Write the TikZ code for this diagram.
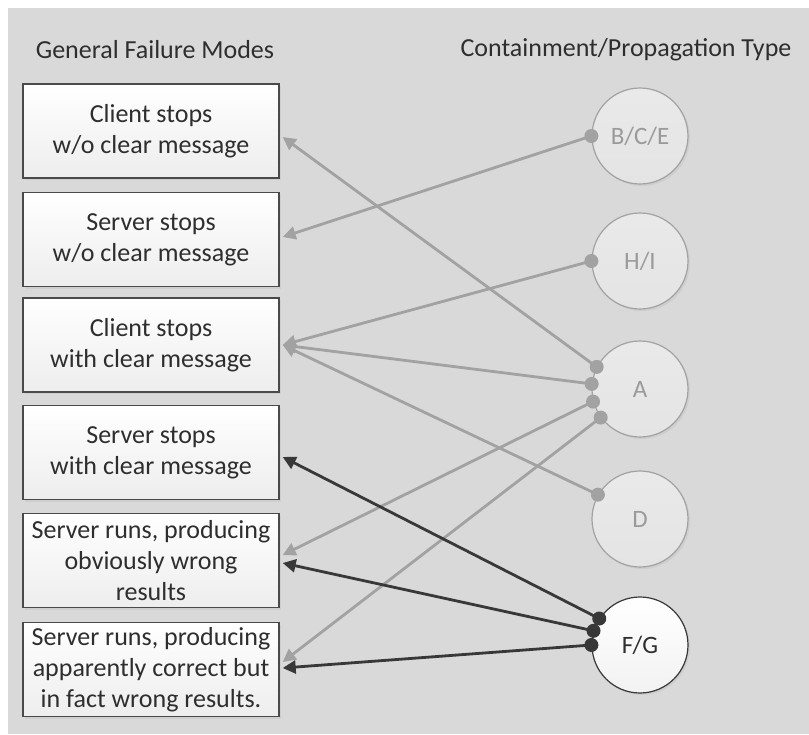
\documentclass[tikz,border=0pt]{standalone}
\usepackage{fontspec}
\setmainfont{Carlito}
\usetikzlibrary{arrows.meta,shadows}

\definecolor{panel}{HTML}{D9D9D9}
\definecolor{boxline}{HTML}{4A4A4A}
\definecolor{boxtext}{HTML}{2E2E2E}
\definecolor{softline}{HTML}{A2A2A2}
\definecolor{softfill}{HTML}{E4E4E4}
\definecolor{softtext}{HTML}{9A9A9A}
\definecolor{hardline}{HTML}{383838}

\tikzset{
  softshadow/.style={drop shadow={opacity=0.12,shadow xshift=2pt,shadow yshift=-2pt}},
  title/.style={text=boxtext,font=\fontsize{26}{31}\selectfont},
  modebox/.style={draw=boxline,line width=1.4pt,minimum width=256pt,minimum height=94pt,
    inner sep=0pt,align=center,top color=white,bottom color=black!7,text=boxtext,
    font=\fontsize{26}{31}\selectfont,softshadow},
  typecirc/.style={circle,draw=softline,line width=1.2pt,minimum size=96pt,inner sep=0pt,
    top color=softfill!80!white,bottom color=softfill,text=softtext,
    font=\fontsize{25}{30}\selectfont,softshadow},
  hardcirc/.style={typecirc,draw=hardline,top color=white,bottom color=black!5,text=boxtext},
  softdot/.style={circle,fill=softline,minimum size=14pt,inner sep=0pt},
  harddot/.style={circle,fill=hardline,minimum size=14pt,inner sep=0pt},
  softlink/.style={draw=softline,line width=2.8pt,-{Triangle[length=13pt,width=13pt]}},
  hardlink/.style={draw=hardline,line width=2.8pt,-{Triangle[length=13pt,width=13pt]}},
}

\begin{document}
\begin{tikzpicture}[x=1pt,y=-1pt]
\useasboundingbox (0,0) rectangle (809,734);
\fill[panel] (8,8) rectangle (809,734);

% column headings
\node[title] (hleft) at (155,50) {General Failure Modes};
\node[title] (hright) at (626,50) {Containment/Propagation Type};

% containment / propagation types
\node[typecirc] (bce) at (640,136) {B/C/E};
\node[typecirc] (hi) at (640,261) {H/I};
\node[typecirc] (a) at (640,389) {A};
\node[typecirc] (d) at (640,519) {D};
\node[hardcirc] (fg) at (640,645) {F/G};

% general failure modes
\node[modebox] (m1) at (151,131) {Client stops\\w/o clear message};
\node[modebox] (m2) at (151,239.5) {Server stops\\w/o clear message};
\node[modebox] (m3) at (151,345) {Client stops\\with clear message};
\node[modebox] (m4) at (151,452.5) {Server stops\\with clear message};
\node[modebox] (m5) at (151,560.5) {Server runs, producing\\obviously wrong\\results};
\node[modebox] (m6) at (151,669.5) {Server runs, producing\\apparently correct but\\in fact wrong results.};

% connection points on the circles
\coordinate (p1) at (bce.180);
\coordinate (p2) at (hi.180);
\coordinate (p3) at (a.153);
\coordinate (p4) at (a.174);
\coordinate (p5) at (a.195);
\coordinate (p6) at (a.216);
\coordinate (p7) at (d.150);
\coordinate (q1) at (fg.147);
\coordinate (q2) at (fg.163);
\coordinate (q3) at (fg.180);

% links from types to failure modes
\draw[softlink] (p1) -- ([xshift=3pt,yshift=2.5pt]m2.east);
\draw[softlink] (p2) -- ([xshift=3pt]m3.east);
\draw[softlink] (p3) -- ([xshift=3pt,yshift=-6pt]m1.east);
\draw[softlink] (p4) -- ([xshift=3pt]m3.east);
\draw[softlink] (p5) -- ([xshift=3pt,yshift=5.5pt]m5.east);
\draw[softlink] (p6) -- ([xshift=3pt,yshift=7.5pt]m6.east);
\draw[softlink] (p7) -- ([xshift=3pt]m3.east);
\draw[hardlink] (q1) -- ([xshift=3pt,yshift=-4.5pt]m4.east);
\draw[hardlink] (q2) -- ([xshift=3pt,yshift=-2.5pt]m5.east);
\draw[hardlink] (q3) -- ([xshift=3pt,yshift=1.5pt]m6.east);

% round ends of the links on the circles
\node[softdot] (d1) at (p1) {};
\node[softdot] (d2) at (p2) {};
\node[softdot] (d3) at (p3) {};
\node[softdot] (d4) at (p4) {};
\node[softdot] (d5) at (p5) {};
\node[softdot] (d6) at (p6) {};
\node[softdot] (d7) at (p7) {};
\node[harddot] (e1) at (q1) {};
\node[harddot] (e2) at (q2) {};
\node[harddot] (e3) at (q3) {};
\end{tikzpicture}
\end{document}
